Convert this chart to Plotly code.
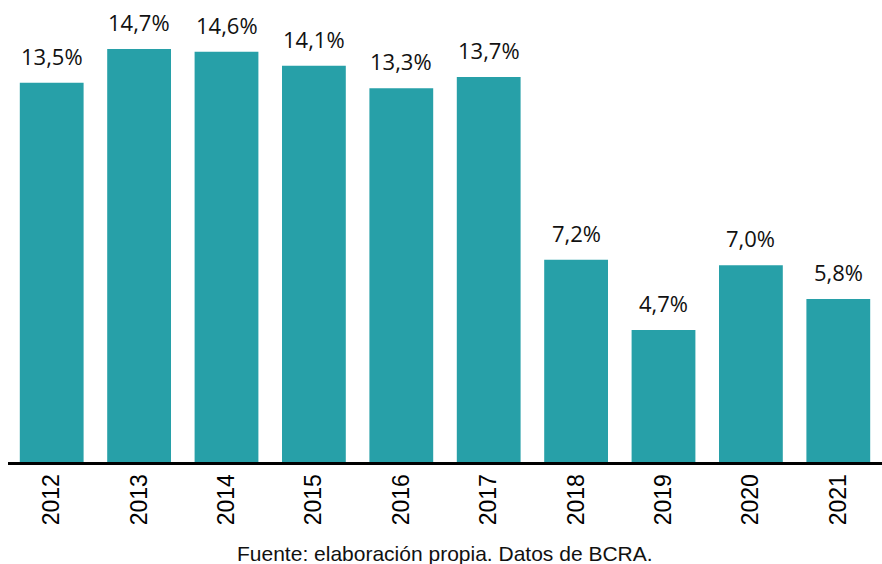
import plotly.graph_objects as go

years = ["2012", "2013", "2014", "2015", "2016", "2017", "2018", "2019", "2020", "2021"]
values = [13.5, 14.7, 14.6, 14.1, 13.3, 13.7, 7.2, 4.7, 7.0, 5.8]
labels = ["13,5%", "14,7%", "14,6%", "14,1%", "13,3%", "13,7%", "7,2%", "4,7%", "7,0%", "5,8%"]
source = "Fuente: elaboración propia. Datos de BCRA."

fig = go.Figure()
fig.add_trace(go.Bar(x=years, y=values, marker=dict(color="#27A0A8", line=dict(width=0)),
                     hoverinfo="skip"))

for i, (v, lab) in enumerate(zip(values, labels)):
    fig.add_annotation(x=i, y=v, text=lab, showarrow=False, yanchor="bottom",
                       yshift=10, font=dict(family="Open Sans", size=22, color="#111111"))

fig.add_annotation(x=0.5, y=0, xref="paper", yref="paper", yanchor="top", yshift=-78,
                   text=source, showarrow=False,
                   font=dict(family="Liberation Sans, Arial", size=21, color="#111111"))

fig.update_layout(
    width=882, height=564,
    margin=dict(l=8, r=0, t=20, b=102),
    plot_bgcolor="white", paper_bgcolor="white",
    bargap=0.27,
    showlegend=False,
    xaxis=dict(type="category", range=[-0.5, len(years) - 0.5], showline=True,
               linecolor="black", linewidth=3, tickangle=-90,
               tickfont=dict(family="Liberation Sans, Arial", size=23, color="black"),
               ticks="", ticklen=0, showgrid=False),
    yaxis=dict(range=[0, 15.73], visible=False, showgrid=False),
)

fig.write_html("out.html")
